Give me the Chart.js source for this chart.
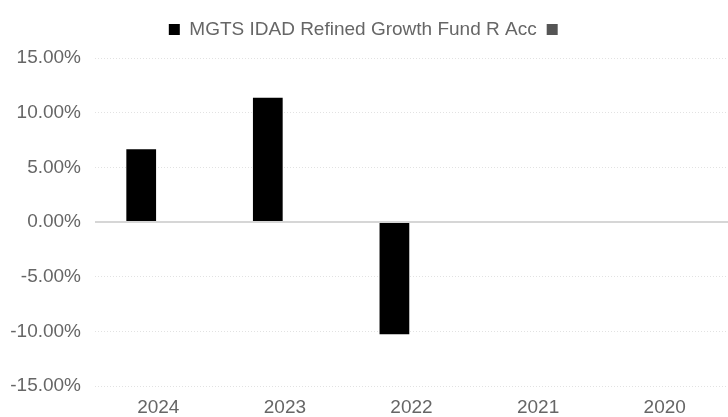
<!DOCTYPE html>
<html>
<head>
<meta charset="utf-8">
<script src="https://cdn.jsdelivr.net/npm/chart.js@4.4.1/dist/chart.umd.min.js"></script>
<style>
  html, body { margin: 0; padding: 0; background: #fff; overflow: hidden; }
  #wrap { width: 728px; height: 421px; }
</style>
</head>
<body>
<div id="wrap"><canvas id="myChart"></canvas></div>
<script>
// data block
const years = ["2024", "2023", "2022", "2021", "2020"];
const fundReturns = [6.66, 11.36, -10.25, null, null];
const otherReturns = [null, null, null, null, null];
const yTicks = [-15, -10, -5, 0, 5, 10, 15];

const data = {
  labels: years,
  datasets: [
    {
      label: "MGTS IDAD Refined Growth Fund R Acc",
      data: fundReturns,
      backgroundColor: "#000000",
      borderWidth: 0,
    },
    {
      label: "",
      data: otherReturns,
      backgroundColor: "#555555",
      borderWidth: 0,
    },
  ],
};

// push the plot a bit further below the legend
const legendGap = {
  id: "legendGap",
  beforeInit: (chart) => {
    const fit = chart.legend.fit;
    chart.legend.fit = function () {
      fit.bind(chart.legend)();
      this.height += 9;
    };
  },
};

const config = {
  type: "bar",
  data: data,
  options: {
    responsive: true,
    maintainAspectRatio: false,
    animation: false,
    categoryPercentage: 0.54,
    barPercentage: 0.87,
    layout: {
      padding: { left: 8, right: 0, top: 10, bottom: 0 },
    },
    plugins: {
      legend: {
        position: "top",
        labels: {
          boxWidth: 11,
          boxHeight: 11,
          color: "#666",
          font: { family: "Liberation Sans, Arial, sans-serif", size: 19 },
          padding: 10,
        },
      },
      tooltip: { enabled: false },
    },
    scales: {
      x: {
        grid: { display: false },
        border: { display: false },
        ticks: {
          color: "#666",
          font: { family: "Liberation Sans, Arial, sans-serif", size: 19 },
          padding: 2,
        },
      },
      y: {
        min: -15,
        max: 15,
        afterBuildTicks: (axis) => {
          axis.ticks = yTicks.map((v) => ({ value: v }));
        },
        afterFit: (axis) => {
          axis.width = 87;
        },
        grid: {
          drawTicks: false,
          color: (ctx) => (ctx.tick && ctx.tick.value === 0 ? "#d6d6d6" : "#e2e2e2"),
          lineWidth: (ctx) => (ctx.tick && ctx.tick.value === 0 ? 2 : 1),
        },
        border: {
          display: false,
          dash: (ctx) => (ctx.tick && ctx.tick.value === 0 ? [] : [1, 2]),
        },
        ticks: {
          color: "#666",
          padding: 14,
          font: { family: "Liberation Sans, Arial, sans-serif", size: 19 },
          callback: (v) => v.toFixed(2) + "%",
        },
      },
    },
  },
  plugins: [legendGap],
};

const myChart = new Chart(document.getElementById("myChart"), config);
</script>
</body>
</html>
